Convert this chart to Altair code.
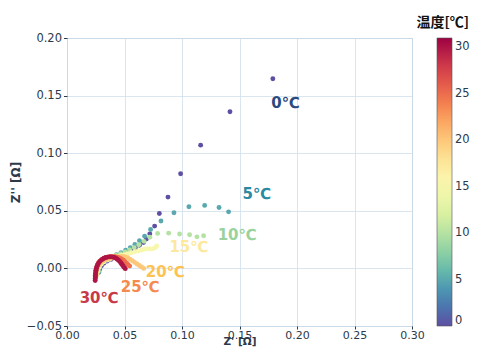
import altair as alt
import pandas as pd

temps = [0, 5, 10, 15, 20, 25, 30]

t0_x = [0.179, 0.1417, 0.1162, 0.0988, 0.0878, 0.0803, 0.0762, 0.0720, 0.0690, 0.0665, 0.0630, 0.0595, 0.0560, 0.0525, 0.0490, 0.0455, 0.0420, 0.0385, 0.0350, 0.0320, 0.0300, 0.0285, 0.0275]
t0_y = [0.1646, 0.136, 0.107, 0.0822, 0.0619, 0.0477, 0.0367, 0.0300, 0.0255, 0.0225, 0.0200, 0.0178, 0.0158, 0.0140, 0.0123, 0.0108, 0.0094, 0.0080, 0.0064, 0.0045, 0.0022, -0.0005, -0.0035]

t5_x = [0.1405, 0.1322, 0.1197, 0.1060, 0.0930, 0.0817, 0.0727, 0.0675, 0.0630, 0.0590, 0.0550, 0.0510, 0.0470, 0.0430, 0.0390, 0.0355, 0.0325, 0.0300, 0.0285, 0.0278]
t5_y = [0.0491, 0.0529, 0.0547, 0.0535, 0.0483, 0.0411, 0.0338, 0.0280, 0.0240, 0.0207, 0.0180, 0.0157, 0.0137, 0.0119, 0.0101, 0.0082, 0.0060, 0.0035, 0.0005, -0.0030]

t10_x = [0.1188, 0.1130, 0.1066, 0.0979, 0.0884, 0.0788, 0.0720, 0.0670, 0.0625, 0.0585, 0.0545, 0.0505, 0.0465, 0.0425, 0.0385, 0.0350, 0.0320, 0.0295, 0.0280, 0.0272]
t10_y = [0.0283, 0.0274, 0.0292, 0.0298, 0.0306, 0.0304, 0.0270, 0.0235, 0.0205, 0.0180, 0.0160, 0.0143, 0.0128, 0.0114, 0.0099, 0.0082, 0.0062, 0.0038, 0.0008, -0.0025]

t15_x = [0.0780, 0.0770, 0.0750, 0.0725, 0.0700, 0.0675, 0.0650, 0.0620, 0.0590, 0.0560, 0.0530, 0.0500, 0.0470, 0.0440, 0.0410, 0.0380, 0.0350, 0.0322, 0.0298, 0.0280, 0.0268, 0.0262]
t15_y = [0.0195, 0.0182, 0.0172, 0.0168, 0.0170, 0.0166, 0.0160, 0.0152, 0.0144, 0.0136, 0.0128, 0.0120, 0.0112, 0.0104, 0.0095, 0.0085, 0.0073, 0.0058, 0.0038, 0.0012, -0.0020, -0.0055]

t20_x = [0.0667, 0.0648, 0.0628, 0.0608, 0.0588, 0.0568, 0.0548, 0.0528, 0.0508, 0.0488, 0.0465, 0.0440, 0.0415, 0.0390, 0.0365, 0.0340, 0.0315, 0.0293, 0.0276, 0.0265, 0.0258, 0.0255]
t20_y = [0.0000, 0.0012, 0.0025, 0.0038, 0.0052, 0.0066, 0.0080, 0.0092, 0.0100, 0.0104, 0.0104, 0.0100, 0.0095, 0.0090, 0.0084, 0.0076, 0.0064, 0.0048, 0.0028, 0.0004, -0.0025, -0.0060]

t25_x = [0.0545, 0.0532, 0.0519, 0.0505, 0.0490, 0.0474, 0.0457, 0.0439, 0.0420, 0.0400, 0.0380, 0.0360, 0.0340, 0.0320, 0.0302, 0.0287, 0.0274, 0.0264, 0.0257, 0.0252, 0.0250, 0.0249]
t25_y = [0.0020, 0.0033, 0.0046, 0.0059, 0.0071, 0.0082, 0.0091, 0.0098, 0.0102, 0.0104, 0.0103, 0.0100, 0.0094, 0.0086, 0.0075, 0.0062, 0.0047, 0.0030, 0.0010, -0.0015, -0.0045, -0.0080]

t30_x = [0.0507, 0.0499, 0.0491, 0.0483, 0.0475, 0.0467, 0.0458, 0.0448, 0.0437, 0.0425, 0.0412, 0.0398, 0.0383, 0.0368, 0.0352, 0.0337, 0.0322, 0.0308, 0.0295, 0.0283, 0.0274, 0.0266, 0.0260, 0.0255, 0.0252, 0.0250, 0.0248, 0.0247, 0.0246, 0.0245, 0.0245]
t30_y = [-0.0002, 0.0007, 0.0017, 0.0028, 0.0039, 0.0050, 0.0061, 0.0071, 0.0080, 0.0088, 0.0094, 0.0098, 0.0100, 0.0100, 0.0098, 0.0094, 0.0088, 0.0080, 0.0070, 0.0058, 0.0045, 0.0030, 0.0015, 0.0000, -0.0015, -0.0030, -0.0045, -0.0060, -0.0075, -0.0090, -0.0105]

label_text = ["0℃", "5℃", "10℃", "15℃", "20℃", "25℃", "30℃"]
label_x = [0.190, 0.165, 0.148, 0.106, 0.0855, 0.0637, 0.028]
label_y = [0.1435, 0.065, 0.0286, 0.0188, -0.003, -0.0165, -0.0255]

x_ticks = [0, 0.05, 0.10, 0.15, 0.20, 0.25, 0.30]
y_ticks = [-0.05, 0, 0.05, 0.10, 0.15, 0.20]
cbar_ticks = [0, 5, 10, 15, 20, 25, 30]

series = [(0, t0_x, t0_y), (5, t5_x, t5_y), (10, t10_x, t10_y), (15, t15_x, t15_y),
          (20, t20_x, t20_y), (25, t25_x, t25_y), (30, t30_x, t30_y)]
rows = []
for t, xs, ys in series:
    for xv, yv in zip(xs, ys):
        rows.append({"zr": xv, "zi": yv, "temp": t})
df = pd.DataFrame(rows)
lab = pd.DataFrame({"text": label_text, "x": label_x, "y": label_y})

num_font = "DejaVu Sans"
xscale = alt.Scale(domain=[0, 0.30], nice=False, zero=False)
yscale = alt.Scale(domain=[-0.05, 0.20], nice=False, zero=False)

points = alt.Chart(df).mark_circle(size=24, opacity=1).encode(
    x=alt.X("zr:Q", scale=xscale,
            axis=alt.Axis(title="Z'  [Ω]", values=x_ticks, format=".2f", labelFlush=False,
                          labelPadding=0, labelFontSize=11, tickSize=3, titleFontSize=10.5,
                          titleY=18.5, titleBaseline="alphabetic")),
    y=alt.Y("zi:Q", scale=yscale,
            axis=alt.Axis(title="Z''  [Ω]", values=y_ticks, format=".2f", labelFlush=False)),
    color=alt.Color("temp:Q",
                    scale=alt.Scale(scheme="spectral", reverse=True, domain=[0, 31]),
                    legend=alt.Legend(title=None, orient="none", legendX=370, legendY=0,
                                      direction="vertical", gradientLength=288, gradientThickness=15,
                                      values=cbar_ticks, labelOverlap=False,
                                      labelFont=num_font, labelFontSize=11.5, labelColor="#2b3a4a",
                                      gradientStrokeColor="#555", gradientStrokeWidth=0.6,
                                      labelOffset=3)),
)

texts = alt.Chart(lab).mark_text(font=num_font, fontSize=15, fontWeight="bold").encode(
    x=alt.X("x:Q", scale=xscale),
    y=alt.Y("y:Q", scale=yscale),
    text="text:N",
    color=alt.Color("text:N",
                    scale=alt.Scale(domain=label_text,
                                    range=["#2b4a80", "#2a8aa0", "#9ad29c", "#fde8a0", "#fdc250", "#f58a50", "#c83a48"]),
                    legend=None),
)

chart = alt.layer(points, texts).resolve_scale(color="independent").properties(
    width=345, height=288,
    autosize=alt.AutoSizeParams(type="none"),
    padding={"left": 59, "top": 30, "right": 58, "bottom": 22},
    background="white",
    title=alt.TitleParams("温度[℃]", anchor="end", frame="group", dx=57, offset=2,
                          font="Noto Sans CJK JP", fontSize=14, fontWeight="bold", color="#111"),
).configure_view(
    stroke="#a9c2d6", strokeWidth=1
).configure_axis(
    labelFont=num_font, labelFontSize=11.5, labelColor="#2b3a4a",
    titleFont=num_font, titleFontSize=12, titleColor="#2b3a4a", titleFontWeight="bold",
    gridColor="#d0dfeb", gridWidth=0.8, domain=False,
    tickColor="#2b3a4a", tickSize=3.5, labelPadding=2,
).configure_axisY(titlePadding=4)

chart.save("out.html", embed_options={"renderer": "svg", "actions": False})
